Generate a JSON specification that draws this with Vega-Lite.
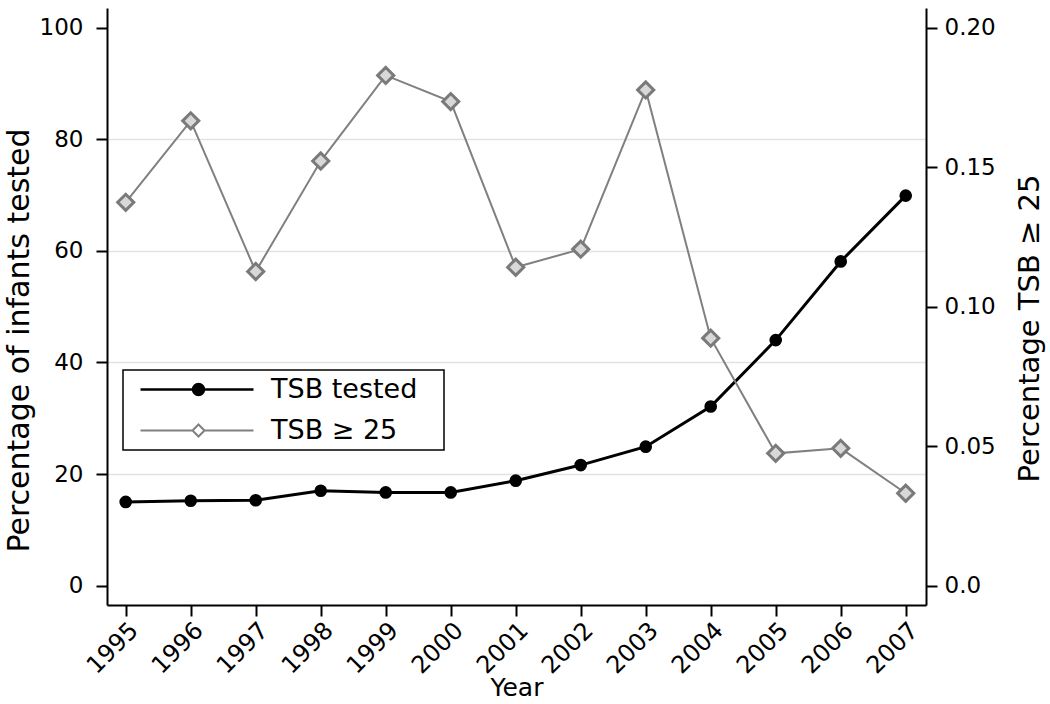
{
  "$schema": "https://vega.github.io/schema/vega-lite/v6.json",
  "width": 819,
  "height": 597,
  "autosize": {"type": "none"},
  "padding": {"left": 107, "top": 8, "right": 124, "bottom": 99},
  "background": "white",
  "config": {
    "view": {"stroke": null},
    "font": "DejaVu Sans",
    "axis": {"labelFont": "DejaVu Sans", "titleFont": "DejaVu Sans", "labelColor": "black", "titleColor": "black", "titleFontWeight": "normal", "domainColor": "black", "tickColor": "black", "domainWidth": 2, "tickWidth": 2}
  },
  "data": {
    "values": [
      {"year": 1995, "series": "TSB tested", "value": 15.0},
      {"year": 1996, "series": "TSB tested", "value": 15.2},
      {"year": 1997, "series": "TSB tested", "value": 15.3},
      {"year": 1998, "series": "TSB tested", "value": 17.0},
      {"year": 1999, "series": "TSB tested", "value": 16.7},
      {"year": 2000, "series": "TSB tested", "value": 16.7},
      {"year": 2001, "series": "TSB tested", "value": 18.8},
      {"year": 2002, "series": "TSB tested", "value": 21.6},
      {"year": 2003, "series": "TSB tested", "value": 24.9},
      {"year": 2004, "series": "TSB tested", "value": 32.1},
      {"year": 2005, "series": "TSB tested", "value": 44.0},
      {"year": 2006, "series": "TSB tested", "value": 58.1},
      {"year": 2007, "series": "TSB tested", "value": 69.9},
      {"year": 1995, "series": "TSB ≥ 25", "value": 0.1374},
      {"year": 1996, "series": "TSB ≥ 25", "value": 0.1666},
      {"year": 1997, "series": "TSB ≥ 25", "value": 0.1126},
      {"year": 1998, "series": "TSB ≥ 25", "value": 0.1522},
      {"year": 1999, "series": "TSB ≥ 25", "value": 0.1829},
      {"year": 2000, "series": "TSB ≥ 25", "value": 0.1735},
      {"year": 2001, "series": "TSB ≥ 25", "value": 0.1141},
      {"year": 2002, "series": "TSB ≥ 25", "value": 0.1206},
      {"year": 2003, "series": "TSB ≥ 25", "value": 0.1777},
      {"year": 2004, "series": "TSB ≥ 25", "value": 0.0887},
      {"year": 2005, "series": "TSB ≥ 25", "value": 0.0474},
      {"year": 2006, "series": "TSB ≥ 25", "value": 0.0492},
      {"year": 2007, "series": "TSB ≥ 25", "value": 0.0331}
    ]
  },
  "encoding": {
    "x": {
      "field": "year", "type": "quantitative",
      "scale": {"domain": [1994.712, 2007.312], "nice": false, "zero": false},
      "axis": {
        "title": "Year", "titleFontSize": 25, "titleBaseline": "alphabetic", "titleY": 90,
        "values": [1995, 1996, 1997, 1998, 1999, 2000, 2001, 2002, 2003, 2004, 2005, 2006, 2007],
        "format": "d", "labelAngle": -45, "labelAlign": "right", "labelBaseline": "top",
        "labelFontSize": 24, "labelPadding": 2, "tickSize": 11, "grid": false, "labelFlush": false, "labelOverlap": false
      }
    }
  },
  "layer": [
    {
      "transform": [{"filter": "datum.series === 'TSB tested'"}],
      "encoding": {
        "y": {
          "field": "value", "type": "quantitative",
          "scale": {"domain": [-3.48, 103.53], "nice": false, "zero": false},
          "axis": {
            "orient": "left", "title": "Percentage of infants tested", "titleFontSize": 30, "titlePadding": 5, "titleY": 332,
            "values": [0, 20, 40, 60, 80, 100], "labelFontSize": 23, "labelPadding": 13, "tickSize": 11,
            "grid": true, "gridColor": "#e2e2e2", "gridWidth": 1.5,
            "gridOpacity": {"condition": {"test": "datum.value == 0 || datum.value == 100", "value": 0}, "value": 1}
          }
        }
      },
      "layer": [
        {
          "mark": {"type": "line", "strokeWidth": 3},
          "encoding": {
            "color": {
              "field": "series", "type": "nominal",
              "scale": {"domain": ["TSB tested", "TSB ≥ 25"], "range": ["black", "#808080"]},
              "legend": {
                "orient": "none", "legendX": 16, "legendY": 362, "title": null,
                "symbolSize": 400, "labelFontSize": 27, "labelFont": "DejaVu Sans", "labelColor": "black",
                "labelOffset": 115, "padding": 6, "rowPadding": 13, "strokeColor": "black", "labelLimit": 400,
                "labelExpr": "datum.label + '\u2800'",
                "encode": {
                  "legend": {"update": {"strokeWidth": {"value": 1.5}}},
                  "symbols": {
                    "update": {
                      "shape": {"signal": "datum.value === 'TSB tested' ? 'M-0.2,0H11.1M5.05,0A0.55,0.55 0 1,0 6.15,0A0.55,0.55 0 1,0 5.05,0Z' : 'M-0.2,0H5M6.2,0H11.1M5.6,-0.6L6.2,0L5.6,0.6L5,0Z'"},
                      "fill": {"signal": "datum.value === 'TSB tested' ? 'black' : 'white'"},
                      "stroke": {"signal": "datum.value === 'TSB tested' ? 'black' : '#808080'"},
                      "strokeWidth": {"signal": "datum.value === 'TSB tested' ? 2.5 : 2"},
                      "size": {"value": 400},
                      "opacity": {"value": 1},
                      "fillOpacity": {"value": 1},
                      "strokeOpacity": {"value": 1}
                    }
                  }
                }
              }
            }
          }
        },
        {
          "mark": {"type": "point", "shape": "circle", "filled": true, "color": "black", "size": 160, "opacity": 1}
        }
      ]
    },
    {
      "transform": [{"filter": "datum.series === 'TSB ≥ 25'"}],
      "encoding": {
        "y": {
          "field": "value", "type": "quantitative",
          "scale": {"domain": [-0.00696, 0.20706], "nice": false, "zero": false},
          "axis": {
            "orient": "right", "title": "Percentage TSB ≥ 25", "titleFontSize": 29, "titlePadding": 20, "titleY": 320,
            "titleAngle": -90, "titleBaseline": "top",
            "values": [0, 0.05, 0.1, 0.15, 0.2], "labelExpr": "datum.value == 0 ? '0.0' : format(datum.value, '.2f')",
            "labelFontSize": 23, "labelPadding": 7, "tickSize": 11, "grid": false
          }
        }
      },
      "layer": [
        {
          "mark": {"type": "line", "strokeWidth": 2},
          "encoding": {"color": {"field": "series", "type": "nominal"}}
        },
        {
          "mark": {"type": "point", "shape": "diamond", "filled": true, "fill": "#d8d8d8", "stroke": "#7a7a7a", "strokeWidth": 3, "size": 260, "opacity": 1}
        }
      ]
    }
  ],
  "resolve": {"scale": {"y": "independent"}}
}
